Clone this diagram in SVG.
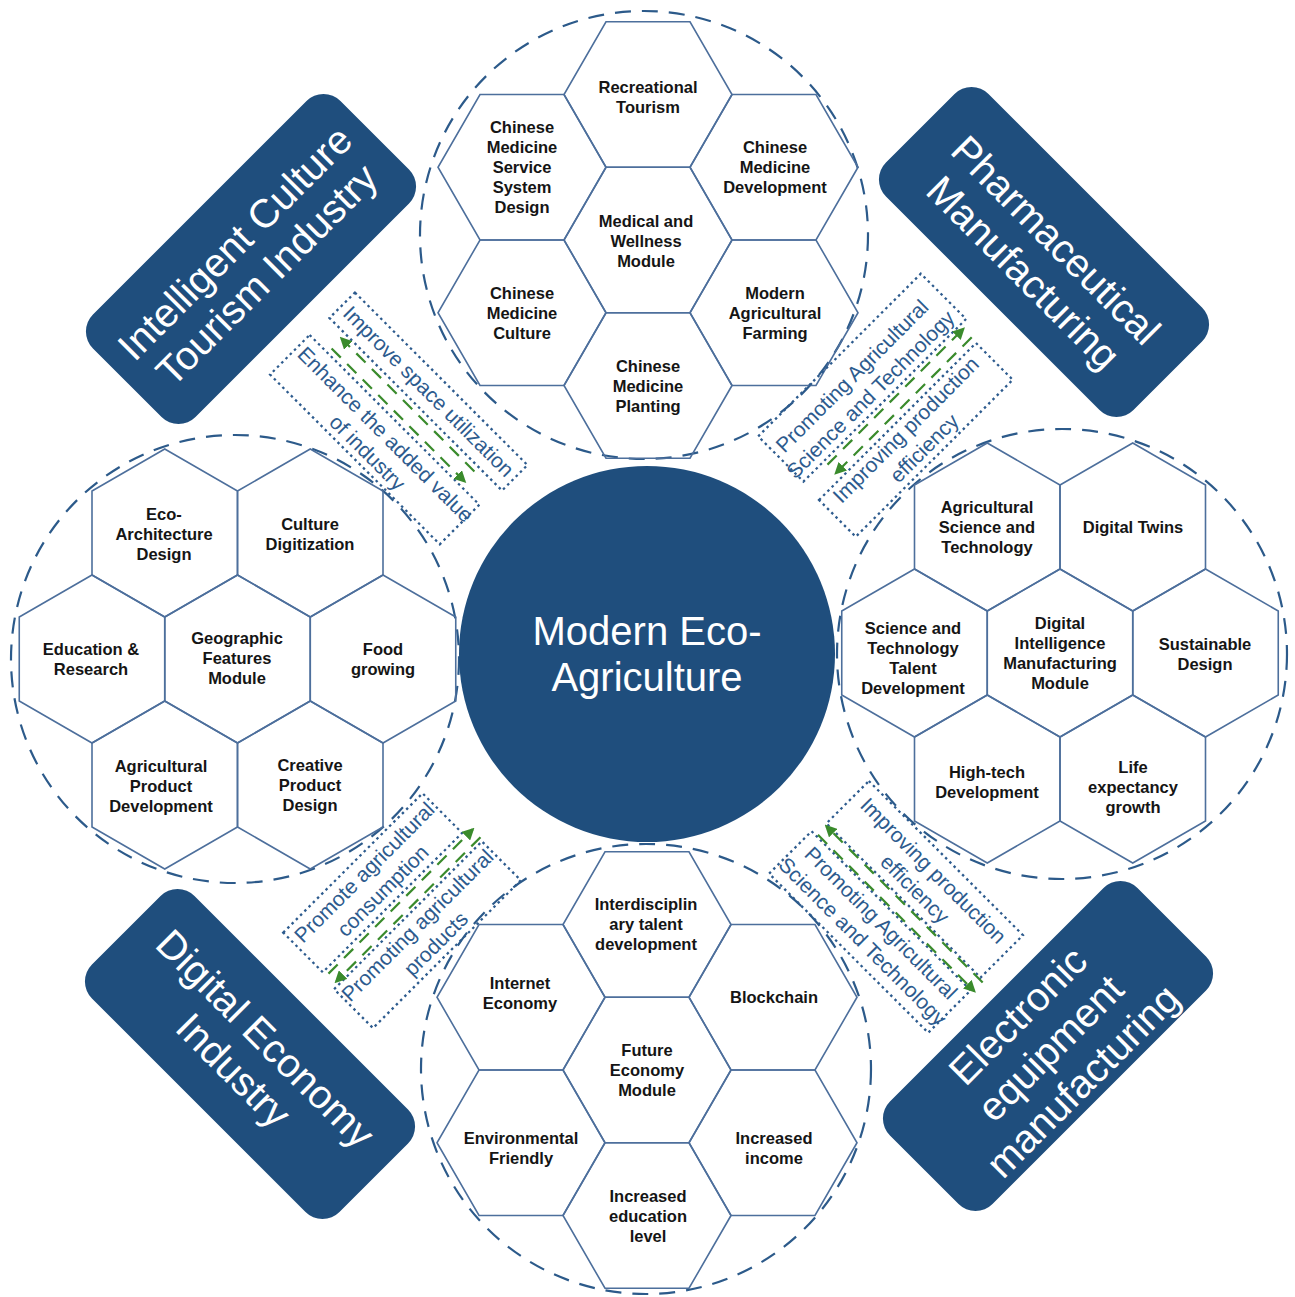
<svg xmlns="http://www.w3.org/2000/svg" xmlns:xlink="http://www.w3.org/1999/xlink" width="1295" height="1297" viewBox="0 0 1295 1297">
  <defs>
    <style>
      .hx { fill: none; stroke: #4d6f9c; stroke-width: 1.6; }
      .ring { fill: none; stroke: #2c5a8a; stroke-width: 2.2; stroke-dasharray: 16 11; }
      .lbl { font-family: "Liberation Sans", Arial, sans-serif; font-weight: bold; font-size: 16.5px; fill: #151515; text-anchor: middle; }
      .big { font-family: "Liberation Sans", Arial, sans-serif; font-size: 40px; fill: #ffffff; text-anchor: middle; }
      .hub { fill: #1f4e7d; }
      .note { font-family: "Liberation Sans", Arial, sans-serif; font-size: 21px; fill: #2d5b8e; text-anchor: middle; }
      .dot { fill: none; stroke: #2d5b8e; stroke-width: 2.3; stroke-dasharray: 2.5 3.5; }
      .flow { fill: none; stroke: #3a8b2c; stroke-width: 2.2; stroke-dasharray: 13 9; marker-end: url(#headG); }
    </style>
    <!-- flat-top hexagon, circumradius 84 -->
    <polygon id="hexF" class="hx" points="84,0 42,72.75 -42,72.75 -84,0 -42,-72.75 42,-72.75"/>
    <!-- pointy-top hexagon, circumradius 84 -->
    <polygon id="hexP" class="hx" points="0,-84 72.75,-42 72.75,42 0,84 -72.75,42 -72.75,-42"/>
    <marker id="headG" viewBox="0 0 10 10" refX="8" refY="5" markerWidth="5.5" markerHeight="5.5" orient="auto">
      <path d="M0,0 L10,5 L0,10 z" fill="#3a8b2c"/>
    </marker>
  </defs>

  <rect width="1295" height="1297" fill="#ffffff"/>

  <!-- dashed cluster outlines -->
  <g id="rings">
    <circle class="ring" cx="644" cy="235" r="224"/>
    <circle class="ring" cx="235" cy="659" r="224"/>
    <circle class="ring" cx="1062" cy="654" r="225"/>
    <circle class="ring" cx="646" cy="1069" r="225"/>
  </g>

  <!-- top cluster: medical & wellness -->
  <g id="cluster-top">
    <g id="n-recreational-tourism"><use xlink:href="#hexF" x="648" y="94.5"/>
      <text class="lbl" x="648" y="92.5">Recreational<tspan x="648" dy="20">Tourism</tspan></text></g>
    <g id="n-cm-service-design"><use xlink:href="#hexF" x="522" y="167.25"/>
      <text class="lbl" x="522" y="133">Chinese<tspan x="522" dy="20">Medicine</tspan><tspan x="522" dy="20">Service</tspan><tspan x="522" dy="20">System</tspan><tspan x="522" dy="20">Design</tspan></text></g>
    <g id="n-cm-development"><use xlink:href="#hexF" x="774" y="167.25"/>
      <text class="lbl" x="775" y="153">Chinese<tspan x="775" dy="20">Medicine</tspan><tspan x="775" dy="20">Development</tspan></text></g>
    <g id="n-medical-wellness"><use xlink:href="#hexF" x="648" y="240"/>
      <text class="lbl" x="646" y="227">Medical and<tspan x="646" dy="20">Wellness</tspan><tspan x="646" dy="20">Module</tspan></text></g>
    <g id="n-cm-culture"><use xlink:href="#hexF" x="522" y="312.75"/>
      <text class="lbl" x="522" y="299">Chinese<tspan x="522" dy="20">Medicine</tspan><tspan x="522" dy="20">Culture</tspan></text></g>
    <g id="n-modern-farming"><use xlink:href="#hexF" x="774" y="312.75"/>
      <text class="lbl" x="775" y="299">Modern<tspan x="775" dy="20">Agricultural</tspan><tspan x="775" dy="20">Farming</tspan></text></g>
    <g id="n-cm-planting"><use xlink:href="#hexF" x="648" y="385.5"/>
      <text class="lbl" x="648" y="372">Chinese<tspan x="648" dy="20">Medicine</tspan><tspan x="648" dy="20">Planting</tspan></text></g>
  </g>

  <!-- left cluster: geographic features -->
  <g id="cluster-left">
    <g id="n-eco-architecture"><use xlink:href="#hexP" x="164.75" y="533"/>
      <text class="lbl" x="164" y="520">Eco-<tspan x="164" dy="20">Architecture</tspan><tspan x="164" dy="20">Design</tspan></text></g>
    <g id="n-culture-digitization"><use xlink:href="#hexP" x="310.25" y="533"/>
      <text class="lbl" x="310" y="530">Culture<tspan x="310" dy="20">Digitization</tspan></text></g>
    <g id="n-education-research"><use xlink:href="#hexP" x="92" y="659"/>
      <text class="lbl" x="91" y="655">Education &amp;<tspan x="91" dy="20">Research</tspan></text></g>
    <g id="n-geographic-features"><use xlink:href="#hexP" x="237.5" y="659"/>
      <text class="lbl" x="237" y="644">Geographic<tspan x="237" dy="20">Features</tspan><tspan x="237" dy="20">Module</tspan></text></g>
    <g id="n-food-growing"><use xlink:href="#hexP" x="383" y="659"/>
      <text class="lbl" x="383" y="655">Food<tspan x="383" dy="20">growing</tspan></text></g>
    <g id="n-agri-product-dev"><use xlink:href="#hexP" x="164.75" y="785"/>
      <text class="lbl" x="161" y="772">Agricultural<tspan x="161" dy="20">Product</tspan><tspan x="161" dy="20">Development</tspan></text></g>
    <g id="n-creative-product"><use xlink:href="#hexP" x="310.25" y="785"/>
      <text class="lbl" x="310" y="771">Creative<tspan x="310" dy="20">Product</tspan><tspan x="310" dy="20">Design</tspan></text></g>
  </g>

  <!-- right cluster: digital intelligence manufacturing -->
  <g id="cluster-right">
    <g id="n-agri-sci-tech"><use xlink:href="#hexP" x="987.25" y="527"/>
      <text class="lbl" x="987" y="513">Agricultural<tspan x="987" dy="20">Science and</tspan><tspan x="987" dy="20">Technology</tspan></text></g>
    <g id="n-digital-twins"><use xlink:href="#hexP" x="1132.75" y="527"/>
      <text class="lbl" x="1133" y="533">Digital Twins</text></g>
    <g id="n-talent-development"><use xlink:href="#hexP" x="914.5" y="653"/>
      <text class="lbl" x="913" y="634">Science and<tspan x="913" dy="20">Technology</tspan><tspan x="913" dy="20">Talent</tspan><tspan x="913" dy="20">Development</tspan></text></g>
    <g id="n-digital-intelligence"><use xlink:href="#hexP" x="1060" y="653"/>
      <text class="lbl" x="1060" y="629">Digital<tspan x="1060" dy="20">Intelligence</tspan><tspan x="1060" dy="20">Manufacturing</tspan><tspan x="1060" dy="20">Module</tspan></text></g>
    <g id="n-sustainable-design"><use xlink:href="#hexP" x="1205.5" y="653"/>
      <text class="lbl" x="1205" y="649.5">Sustainable<tspan x="1205" dy="20">Design</tspan></text></g>
    <g id="n-high-tech"><use xlink:href="#hexP" x="987.25" y="779"/>
      <text class="lbl" x="987" y="777.5">High-tech<tspan x="987" dy="20">Development</tspan></text></g>
    <g id="n-life-expectancy"><use xlink:href="#hexP" x="1132.75" y="779"/>
      <text class="lbl" x="1133" y="772.5">Life<tspan x="1133" dy="20">expectancy</tspan><tspan x="1133" dy="20">growth</tspan></text></g>
  </g>

  <!-- bottom cluster: future economy -->
  <g id="cluster-bottom">
    <g id="n-interdisciplinary"><use xlink:href="#hexF" x="647" y="924.5"/>
      <text class="lbl" x="646" y="909.5">Interdisciplin<tspan x="646" dy="20">ary talent</tspan><tspan x="646" dy="20">development</tspan></text></g>
    <g id="n-internet-economy"><use xlink:href="#hexF" x="521" y="997.25"/>
      <text class="lbl" x="520" y="989.3">Internet<tspan x="520" dy="20">Economy</tspan></text></g>
    <g id="n-blockchain"><use xlink:href="#hexF" x="773" y="997.25"/>
      <text class="lbl" x="774" y="1002.7">Blockchain</text></g>
    <g id="n-future-economy"><use xlink:href="#hexF" x="647" y="1070"/>
      <text class="lbl" x="647" y="1056">Future<tspan x="647" dy="20">Economy</tspan><tspan x="647" dy="20">Module</tspan></text></g>
    <g id="n-environmental"><use xlink:href="#hexF" x="521" y="1142.75"/>
      <text class="lbl" x="521" y="1144">Environmental<tspan x="521" dy="20">Friendly</tspan></text></g>
    <g id="n-increased-income"><use xlink:href="#hexF" x="773" y="1142.75"/>
      <text class="lbl" x="774" y="1144">Increased<tspan x="774" dy="20">income</tspan></text></g>
    <g id="n-education-level"><use xlink:href="#hexF" x="647" y="1215.5"/>
      <text class="lbl" x="648" y="1202">Increased<tspan x="648" dy="20">education</tspan><tspan x="648" dy="20">level</tspan></text></g>
  </g>

  <!-- hub -->
  <g id="n-modern-eco-agriculture">
    <circle class="hub" cx="647" cy="654" r="188"/>
    <text class="big" x="647" y="645">Modern Eco-<tspan x="647" dy="46">Agriculture</tspan></text>
  </g>

  <!-- industry badges -->
  <g id="n-culture-tourism" transform="translate(251,259) rotate(-45)">
    <rect class="hub" x="-175" y="-72.5" width="350" height="145" rx="24"/>
    <text class="big" x="0" y="-9">Intelligent Culture<tspan x="0" dy="45">Tourism Industry</tspan></text>
  </g>
  <g id="n-pharma" transform="translate(1044,252) rotate(45)">
    <rect class="hub" x="-175" y="-72.5" width="350" height="145" rx="24"/>
    <text class="big" x="0" y="-3">Pharmaceutical<tspan x="0" dy="46">Manufacturing</tspan></text>
  </g>
  <g id="n-digital-economy" transform="translate(250,1054) rotate(45)">
    <rect class="hub" x="-175" y="-72.5" width="350" height="145" rx="24"/>
    <text class="big" x="0" y="-8">Digital Economy<tspan x="0" dy="45">Industry</tspan></text>
  </g>
  <g id="n-electronic" transform="translate(1048,1046) rotate(-45)">
    <rect class="hub" x="-175" y="-72.5" width="350" height="145" rx="24"/>
    <text class="big" x="0" y="-29">Electronic<tspan x="0" dy="46">equipment</tspan><tspan x="0" dy="46">manufacturing</tspan></text>
  </g>

  <!-- connectors: two-way flows with their notes -->
  <g id="connectors">
    <g id="c-top-left" transform="translate(403,417) rotate(45)">
      <rect class="dot" x="-122" y="-54" width="244" height="36"/>
      <rect class="dot" x="-124" y="8" width="240" height="56"/>
      <text class="note" x="0" y="-29">Improve space utilization</text>
      <text class="note" x="0" y="32">Enhance the added value<tspan x="0" dy="25.5">of industry</tspan></text>
      <line class="flow" x1="89" y1="-12" x2="-99" y2="-12"/>
      <line class="flow" x1="-99" y1="2" x2="89" y2="2"/>
    </g>
    <g id="c-top-right" transform="translate(889,413) rotate(-45)">
      <rect class="dot" x="-109" y="-76" width="230" height="64"/>
      <rect class="dot" x="-111" y="12" width="222" height="52"/>
      <text class="note" x="0" y="-45">Promoting Agricultural<tspan x="0" dy="26">Science and Technology</tspan></text>
      <text class="note" x="0" y="31">Improving production<tspan x="0" dy="26">efficiency</tspan></text>
      <line class="flow" x1="-80" y1="-7" x2="112" y2="-7"/>
      <line class="flow" x1="112" y1="5" x2="-80" y2="5"/>
    </g>
    <g id="c-bottom-left" transform="translate(402,910) rotate(-45)">
      <rect class="dot" x="-100" y="-68" width="197" height="56"/>
      <rect class="dot" x="-104" y="8" width="209" height="55"/>
      <text class="note" x="0" y="-46">Promote agricultural<tspan x="0" dy="26">consumption</tspan></text>
      <text class="note" x="0" y="29">Promoting agricultural<tspan x="0" dy="26">products</tspan></text>
      <line class="flow" x1="-97" y1="-7" x2="107" y2="-7"/>
      <line class="flow" x1="107" y1="4" x2="-97" y2="4"/>
    </g>
    <g id="c-bottom-right" transform="translate(895,909) rotate(45)">
      <rect class="dot" x="-109" y="-72" width="218" height="60"/>
      <rect class="dot" x="-114" y="4" width="225" height="60"/>
      <text class="note" x="0" y="-47">Improving production<tspan x="0" dy="26">efficiency</tspan></text>
      <text class="note" x="0" y="27">Promoting Agricultural<tspan x="0" dy="26">Science and Technology</tspan></text>
      <line class="flow" x1="114" y1="-10" x2="-107" y2="-10"/>
      <line class="flow" x1="-107" y1="2" x2="114" y2="2"/>
    </g>
  </g>
</svg>
